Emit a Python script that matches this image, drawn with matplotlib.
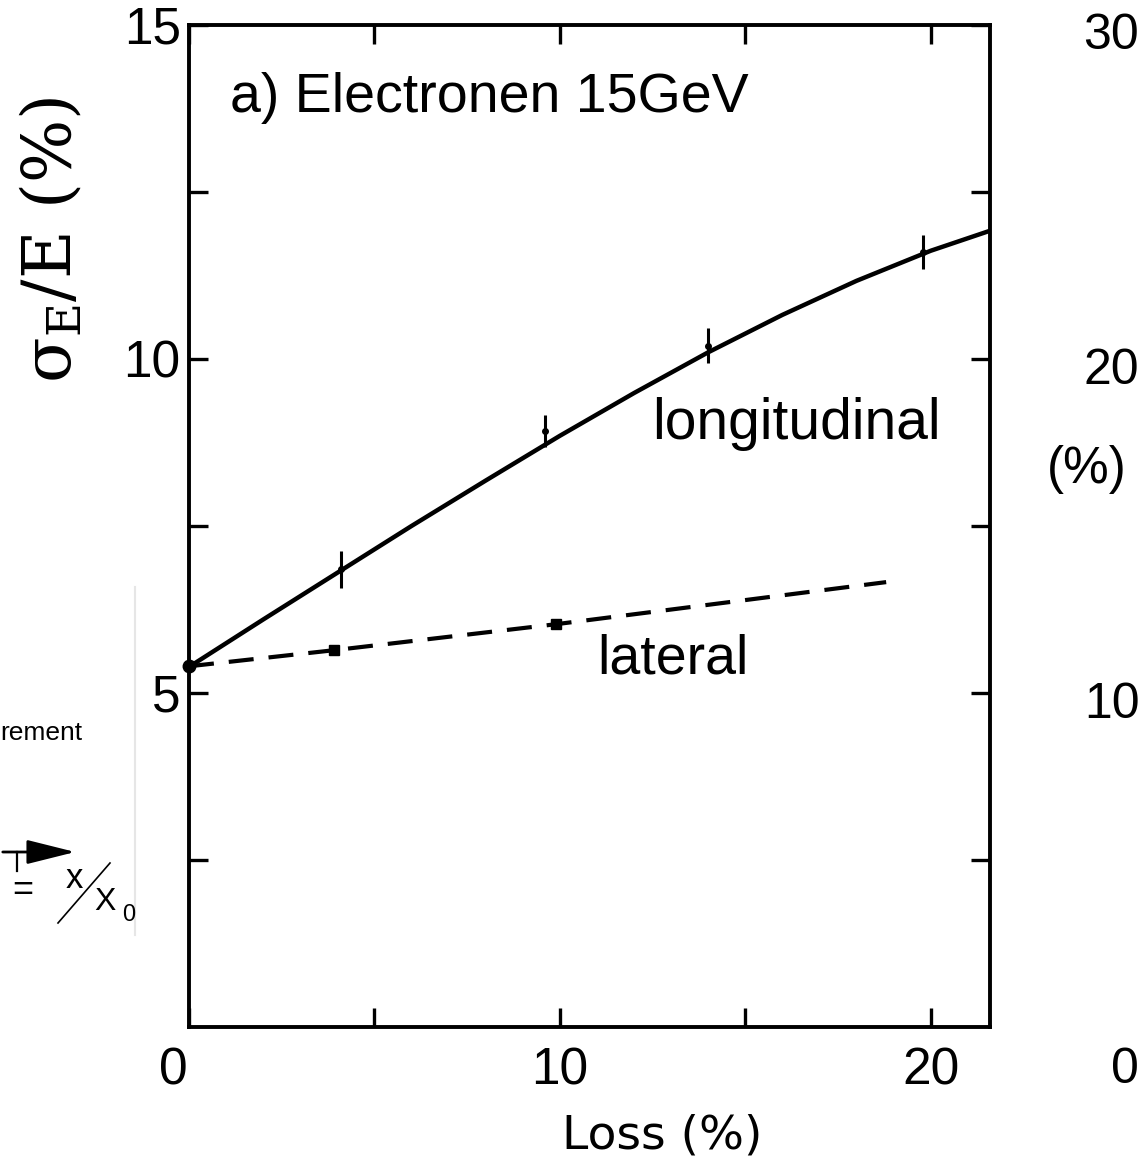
import matplotlib
matplotlib.use("Agg")
import matplotlib.pyplot as plt
from matplotlib.lines import Line2D
from matplotlib.patches import FancyArrowPatch
from matplotlib.transforms import ScaledTranslation

# Data

long_x = [0, 2, 4, 6, 8, 10, 12, 14, 16, 18, 20, 21.6]
long_y = [5.39, 6.10, 6.80, 7.50, 8.18, 8.85, 9.49, 10.10, 10.66, 11.17, 11.62, 11.92]

meas_x = [4.1, 9.6, 14.0, 19.8]
meas_y = [6.85, 8.92, 10.2, 11.6]
meas_err = [0.28, 0.24, 0.26, 0.25]

lat_x = [0, 3.9, 9.9, 18.8]
lat_y = [5.4, 5.64, 6.03, 6.66]

lat_pts_x = [3.9, 9.9]
lat_pts_y = [5.64, 6.03]

x_major = [0, 10, 20]
x_minor = [5, 15]
y_major = [5, 10, 15]
y_minor = [2.5, 7.5, 12.5]

W, H = 1142, 1159

plt.rcParams["mathtext.fontset"] = "dejavuserif"

fig = plt.figure(figsize=(W / 100, H / 100), dpi=100)


def fx(px):
    return px / W


def fy(py):
    return 1 - py / H


ax = fig.add_axes([fx(189), fy(1027), fx(990) - fx(189), fy(25) - fy(1027)])

# Curves

ax.plot(long_x, long_y, color="black", lw=3.2, solid_capstyle="round")

ax.errorbar(
    meas_x,
    meas_y,
    yerr=meas_err,
    fmt="o",
    ms=4,
    color="black",
    elinewidth=2.2,
    capsize=0
)

ax.plot(
    lat_x,
    lat_y,
    color="black",
    lw=3,
    linestyle=(0, (6, 3.6))
)

ax.plot(lat_pts_x, lat_pts_y, "s", color="black", ms=7)

ax.plot([0], [5.4], "o", color="black", ms=9, clip_on=False, zorder=5)

# Axes styling

ax.set_xlim(0, 21.6)
ax.set_ylim(0, 15)

ax.set_xticks(x_major)
ax.set_xticks(x_minor, minor=True)
ax.set_yticks(y_major)
ax.set_yticks(y_minor, minor=True)

for s in ax.spines.values():
    s.set_linewidth(2.8)

ax.tick_params(
    which="both",
    direction="in",
    length=14,
    width=2.4,
    top=True,
    right=True
)

ax.tick_params(axis="x", pad=14)
ax.tick_params(axis="y", pad=6)

for lab in ax.get_xticklabels() + ax.get_yticklabels():
    lab.set_fontfamily("Liberation Sans")
    lab.set_fontsize(37)

# the "0" under the axis sits a bit left of the corner
first = ax.get_xticklabels()[0]
first.set_transform(first.get_transform() + ScaledTranslation(-0.16, 0, fig.dpi_scale_trans))

# Texts inside the plot

ax.text(
    1.1, 13.9,
    "a) Electronen 15GeV",
    fontsize=40,
    family="Liberation Sans",
    va="center"
)

ax.text(
    12.5, 9.03,
    "longitudinal",
    fontsize=41,
    family="Liberation Sans",
    va="center"
)

ax.text(
    11.0, 5.5,
    "lateral",
    fontsize=40,
    family="Liberation Sans",
    va="center"
)

# Axis titles

fig.text(
    fx(52), fy(240),
    r"$\mathrm{σ_E/E\ (\%)}$",
    rotation=90,
    fontsize=48,
    ha="center",
    va="center"
)

fig.text(
    fx(662), fy(1136),
    "Loss (%)",
    fontsize=34,
    family="DejaVu Sans",
    ha="center",
    va="center"
)

# Pieces of the neighbouring panels

for label, px, py in [("30", 1083, 36), ("20", 1083, 371), ("10", 1084, 705), ("0", 1111, 1070)]:
    fig.text(fx(px), fy(py), label, fontsize=36, family="Liberation Sans", va="center")

fig.text(fx(1047), fy(469), "(%)", fontsize=37, family="Liberation Sans", va="center")

fig.text(fx(0), fy(733), "rement", fontsize=19, family="Liberation Sans", va="center")

fig.add_artist(
    Line2D([fx(135), fx(135)], [fy(587), fy(935)], color="#e6e6e6", lw=1.5)
)

fig.add_artist(
    Line2D([fx(17), fx(17)], [fy(852), fy(871)], color="black", lw=1.6)
)

fig.add_artist(
    Line2D([fx(58), fx(110)], [fy(923), fy(863)], color="black", lw=1.2)
)

fig.patches.append(
    FancyArrowPatch(
        (fx(0), fy(852)),
        (fx(78), fy(852)),
        transform=fig.transFigure,
        arrowstyle="-|>,head_length=2.0,head_width=0.5",
        mutation_scale=15,
        color="black",
        lw=2
    )
)

fig.text(fx(12), fy(891), "=", fontsize=26, family="Liberation Sans", va="center")
fig.text(fx(66), fy(878), "x", fontsize=25, family="Liberation Sans", va="center")
fig.text(fx(94), fy(902), "X", fontsize=23, family="Liberation Sans", va="center")
fig.text(fx(122), fy(915), "0", fontsize=17, family="Liberation Sans", va="center")

fig.savefig("out.png", dpi=100, facecolor="white")
